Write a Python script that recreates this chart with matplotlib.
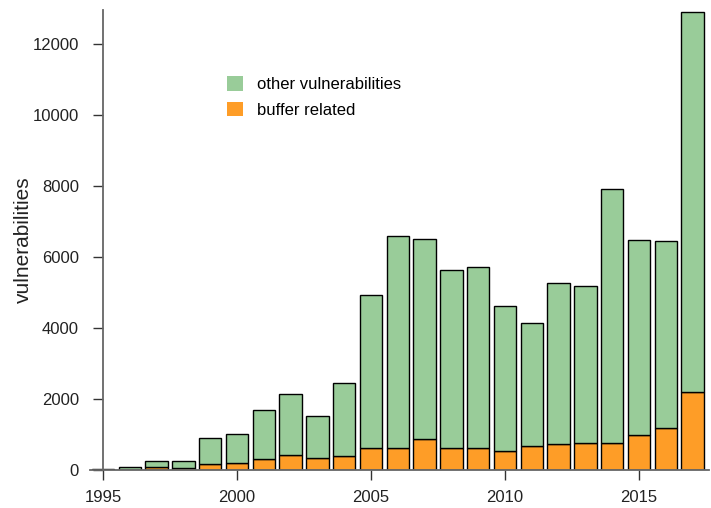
import matplotlib
matplotlib.use("Agg")
import matplotlib.pyplot as plt
from matplotlib.patches import Patch
import numpy as np

plt.rcParams['font.family'] = ['Liberation Sans', 'DejaVu Sans']

years = list(range(1995, 2018))
total = [25, 76, 262, 254, 893, 1023, 1681, 2150, 1530, 2441, 4925, 6595,
         6507, 5628, 5718, 4632, 4145, 5277, 5183, 7928, 6472, 6444, 12893]
buffer_related = [12, 8, 76, 47, 169, 197, 300, 423, 347, 394, 629, 606,
                  865, 629, 620, 535, 667, 723, 760, 770, 977, 1193, 2188]
other = [t - b for t, b in zip(total, buffer_related)]

green = '#99cc99'
orange = '#fe9d27'

fig = plt.figure(figsize=(7.11, 5.08), dpi=100)
ax = fig.add_axes([86.9 / 711, 1 - 470 / 508, (708.7 - 86.9) / 711, 460 / 508])

ax.bar(years, buffer_related, width=0.84, color=orange, edgecolor='black', linewidth=1)
ax.bar(years, other, bottom=buffer_related, width=0.84, color=green,
       edgecolor='black', linewidth=1)

ax.set_xlim(1994.4, 2017.6)
ax.set_ylim(0, 12958)

for s in ['top', 'right']:
    ax.spines[s].set_visible(False)
ax.spines['left'].set_position(('data', 1995))
ax.spines['left'].set_color('#666666')
ax.spines['bottom'].set_color('#666666')
ax.spines['left'].set_linewidth(1.3)
ax.spines['bottom'].set_linewidth(1.3)
ax.spines['bottom'].set_bounds(1994.5, 2017.6)

ax.set_yticks(range(0, 12001, 2000))
ax.set_xticks(range(1995, 2016, 5))
ax.tick_params(axis='both', length=7.2, width=1, color='#333333', labelsize=12,
               labelcolor='#222222')
ax.tick_params(axis='y', pad=10)
ax.tick_params(axis='x', pad=7)

ax.set_ylabel('vulnerabilities', fontsize=15, color='#222222', labelpad=0)

handles = [Patch(facecolor=green, edgecolor='none'),
           Patch(facecolor=orange, edgecolor='none')]
fig.legend(handles, ['other vulnerabilities', 'buffer related'],
           loc='upper left', bbox_to_anchor=(226.7 / 711, 1 - 76 / 508),
           bbox_transform=fig.transFigure, frameon=False, fontsize=12,
           handlelength=1.0, handleheight=1.0, handletextpad=0.84,
           labelspacing=0.56, borderpad=0, borderaxespad=0)

fig.savefig('out.png', dpi=100)
